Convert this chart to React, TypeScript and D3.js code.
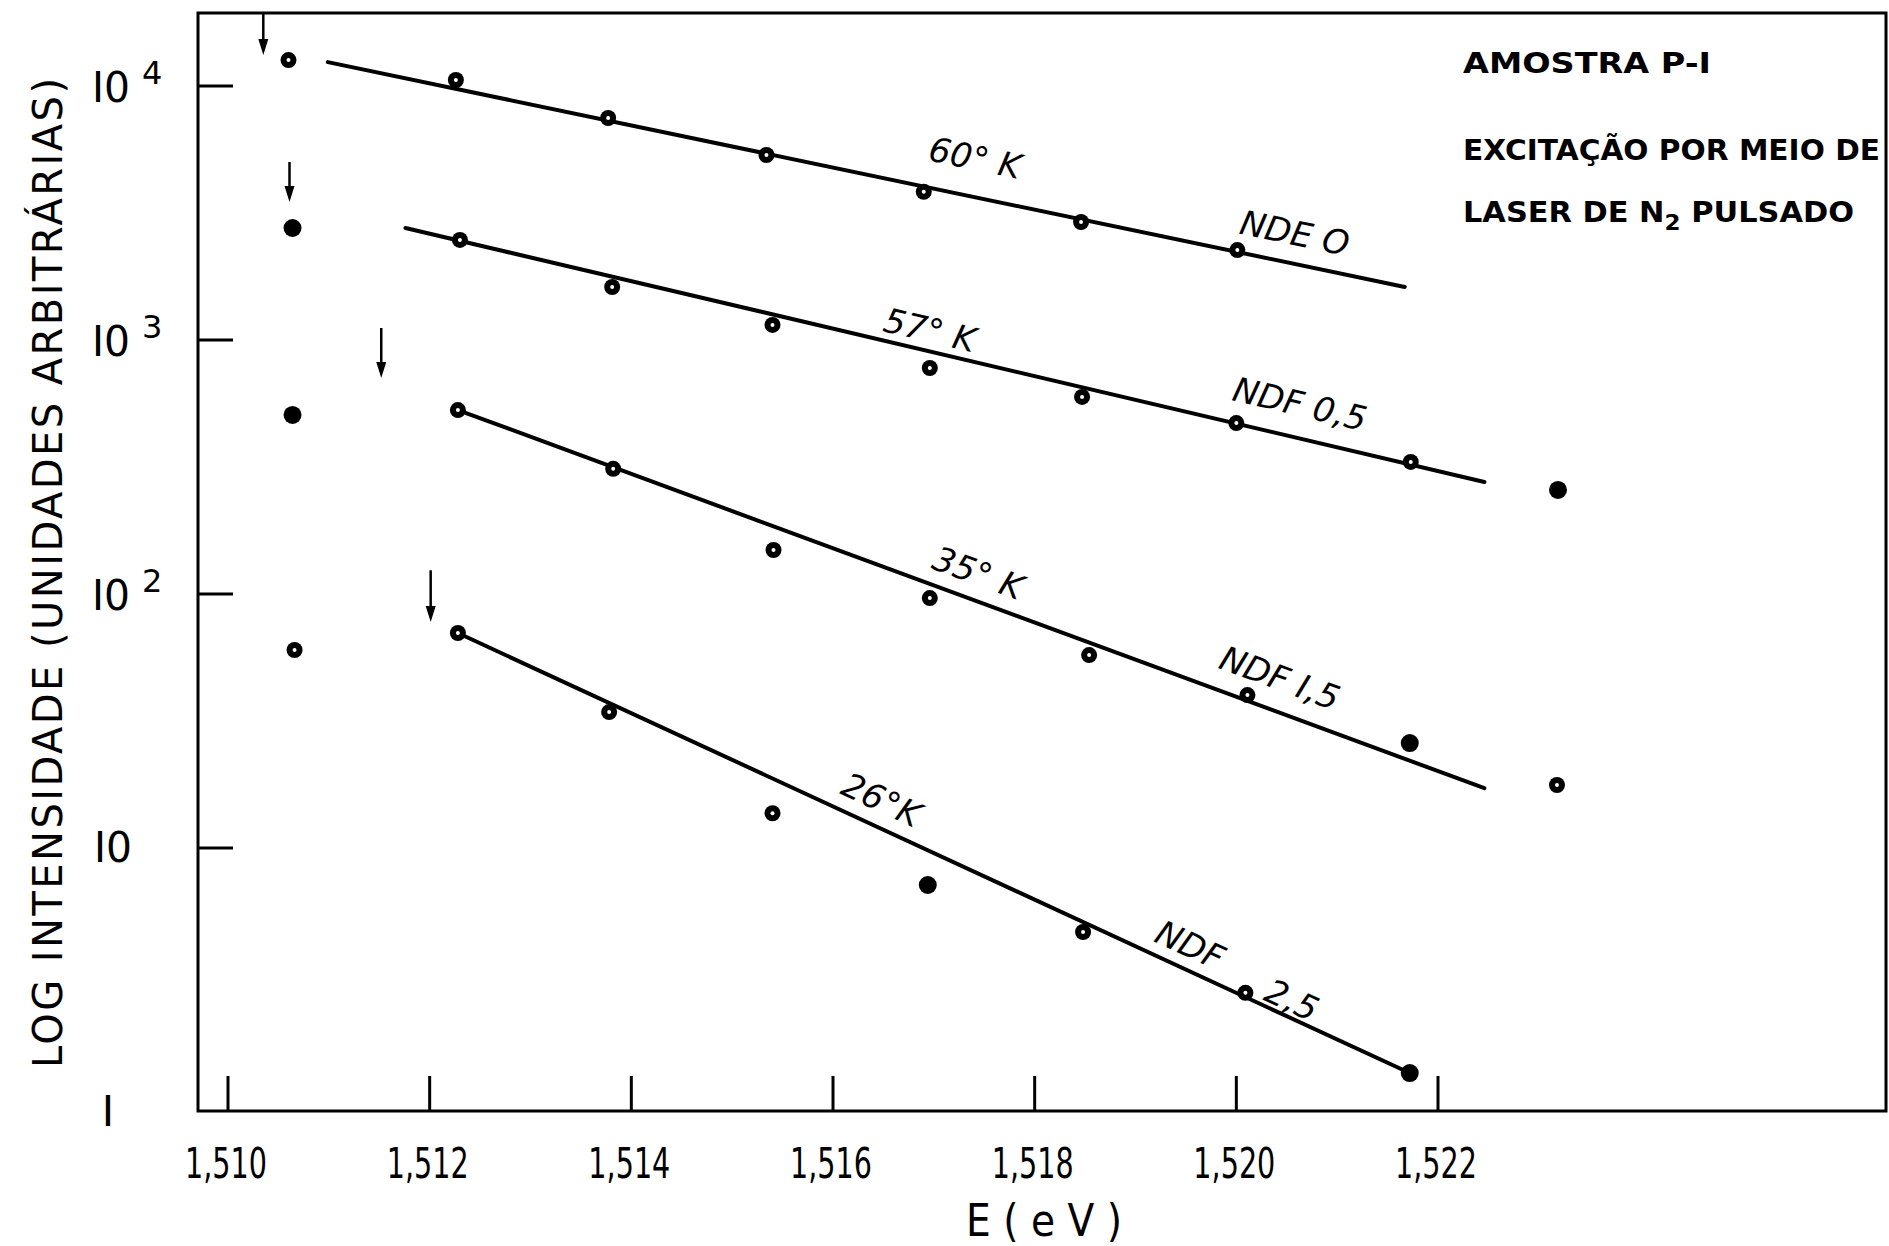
import * as d3 from 'd3';

// axis ticks
const energyTicks = [1.51, 1.512, 1.514, 1.516, 1.518, 1.52, 1.522];
const energyTickLabels = ['1,510', '1,512', '1,514', '1,516', '1,518', '1,520', '1,522'];
const intensityTicks = [1, 10, 100, 1000, 10000];

// 60 K, NDE 0
const energy60K = [1.5106, 1.51226, 1.51377, 1.51534, 1.5169, 1.51846, 1.52001];
const intensity60K = [12650, 10560, 7480, 5350, 3830, 2915, 2260];
const solid60K = [false, false, false, false, false, false, false];
const fit60K = [[1.51099, 12420], [1.52167, 1618]];

// 57 K, NDF 0,5
const energy57K = [1.51064, 1.5123, 1.51381, 1.5154, 1.51696, 1.51847, 1.52, 1.52173, 1.52319];
const intensity57K = [2760, 2477, 1617, 1146, 776, 597, 471, 331, 257];
const solid57K = [true, false, false, false, false, false, false, false, true];
const fit57K = [[1.51176, 2761], [1.52246, 276]];

// 35 K, NDF 1,5
const energy35K = [1.51064, 1.51228, 1.51382, 1.51541, 1.51696, 1.51854, 1.52011, 1.52172, 1.52318];
const intensity35K = [507, 530, 311, 149, 96.4, 57.5, 40, 25.9, 17.7];
const solid35K = [true, false, false, false, false, false, false, true, false];
const fit35K = [[1.51228, 530], [1.52246, 17.2]];

// 26 K, NDF 2,5
const energy26K = [1.51066, 1.51228, 1.51378, 1.5154, 1.51694, 1.51848, 1.52009, 1.52172];
const intensity26K = [60.2, 70.2, 34.3, 13.7, 7.15, 4.67, 2.69, 1.3];
const solid26K = [false, false, false, false, true, false, false, true];
const fit26K = [[1.51228, 70.2], [1.52172, 1.3]];

// vertical arrows
const arrowEnergy = [1.51035, 1.51061, 1.51152, 1.51201];
const arrowTop = [19370, 5020, 1115, 124];
const arrowBottom = [13250, 3493, 709, 77.6];

const series = [
  { energy: energy60K, intensity: intensity60K, solid: solid60K, fit: fit60K },
  { energy: energy57K, intensity: intensity57K, solid: solid57K, fit: fit57K },
  { energy: energy35K, intensity: intensity35K, solid: solid35K, fit: fit35K },
  { energy: energy26K, intensity: intensity26K, solid: solid26K, fit: fit26K },
];

// labels written along the lines
const lineLabels = [
  { text: '60° K', e: 1.51741, i: 5210, fit: 0 },
  { text: 'NDE O', e: 1.52058, i: 2637, fit: 0 },
  { text: '57° K', e: 1.51696, i: 1095, fit: 1 },
  { text: 'NDF 0,5', e: 1.52063, i: 560, fit: 1 },
  { text: '35° K', e: 1.51744, i: 121, fit: 2 },
  { text: 'NDF  I,5', e: 1.52043, i: 46.7, fit: 2 },
  { text: '26°K', e: 1.51648, i: 15.5, fit: 3 },
  { text: 'NDF', e: 1.51954, i: 4.15, fit: 3 },
  { text: '2,5', e: 1.52055, i: 2.52, fit: 3 },
];

const W = 1889;
const H = 1246;
const frame = { left: 198, top: 13, right: 1886, bottom: 1111 };
const font = 'DejaVu Sans, Liberation Sans, sans-serif';

const x = d3.scaleLinear().domain([1.51, 1.522]).range([228, 1438]);
const y = d3.scaleLog().domain([1, 10000]).range([1102, 86]);

const App = () => {
  const line = d3.line<number[]>().x(d => x(d[0])).y(d => y(d[1]));

  return (
    <svg width={W} height={H} style={{ position: 'fixed', left: 0, top: 0, background: 'white' }}>
      <rect x={0} y={0} width={W} height={H} fill="white" />

      {/* frame */}
      <rect x={frame.left} y={frame.top} width={frame.right - frame.left} height={frame.bottom - frame.top}
        fill="none" stroke="black" strokeWidth={3} />

      {/* y ticks (the lowest one sits on the bottom axis) */}
      {intensityTicks.filter(v => v > 1).map(v => (
        <line key={'yt' + v} x1={frame.left} x2={frame.left + 35} y1={y(v)} y2={y(v)} stroke="black" strokeWidth={3} />
      ))}
      {intensityTicks.map(v => {
        const p = Math.round(Math.log10(v));
        const yy = y(v);
        if (p === 0) {
          return <text key={'yl' + v} x={108} y={yy + 24} fontSize={42} fontFamily={font} textAnchor="middle">I</text>;
        }
        if (p === 1) {
          return <text key={'yl' + v} x={94} y={yy + 14} fontSize={42} fontFamily={font}
            textLength={38} lengthAdjust="spacingAndGlyphs">I0</text>;
        }
        return (
          <g key={'yl' + v}>
            <text x={92} y={yy + 16} fontSize={42} fontFamily={font} textLength={38} lengthAdjust="spacingAndGlyphs">I0</text>
            <text x={142} y={yy - 2} fontSize={32} fontFamily={font}>{p}</text>
          </g>
        );
      })}

      {/* x ticks */}
      {energyTicks.map((v, k) => (
        <g key={'xt' + v}>
          <line x1={x(v)} x2={x(v)} y1={frame.bottom} y2={frame.bottom - 35} stroke="black" strokeWidth={3} />
          <text x={x(v) - 2} y={1178} fontSize={42} fontFamily={font} textAnchor="middle"
            textLength={82} lengthAdjust="spacingAndGlyphs">{energyTickLabels[k]}</text>
        </g>
      ))}

      {/* axis titles */}
      <text x={1044} y={1236} fontSize={44} fontFamily={font} textAnchor="middle"
        textLength={156} lengthAdjust="spacingAndGlyphs">E ( e V )</text>
      <text transform="translate(62, 573) rotate(-90)" fontSize={40} fontFamily={font} textAnchor="middle"
        textLength={990} lengthAdjust="spacing">LOG  INTENSIDADE (UNIDADES  ARBITRÁRIAS)</text>

      {/* fitted lines */}
      {series.map((s, k) => (
        <path key={'fit' + k} d={line(s.fit) || ''} fill="none" stroke="black" strokeWidth={4} strokeLinecap="round" />
      ))}

      {/* points */}
      {series.map((s, k) => s.energy.map((e, j) => (
        s.solid[j] ? (
          <circle key={`p${k}-${j}`} cx={x(e)} cy={y(s.intensity[j])} r={9} fill="black" />
        ) : (
          <g key={`p${k}-${j}`}>
            <circle cx={x(e)} cy={y(s.intensity[j])} r={8} fill="black" />
            <circle cx={x(e)} cy={y(s.intensity[j])} r={2} fill="white" />
          </g>
        )
      )))}

      {/* arrows */}
      {arrowEnergy.map((e, k) => {
        const ax = x(e);
        const y0 = y(arrowTop[k]);
        const y1 = y(arrowBottom[k]);
        return (
          <g key={'ar' + k}>
            <line x1={ax} x2={ax} y1={y0} y2={y1 - 10} stroke="black" strokeWidth={2.5} />
            <path d={`M${ax - 5},${y1 - 16} L${ax + 5},${y1 - 16} L${ax},${y1} Z`} fill="black" />
          </g>
        );
      })}

      {/* line labels */}
      {lineLabels.map((l, k) => {
        const f = series[l.fit].fit;
        const ang = Math.atan2(y(f[1][1]) - y(f[0][1]), x(f[1][0]) - x(f[0][0])) * 180 / Math.PI;
        return (
          <text key={'ll' + k} transform={`translate(${x(l.e)}, ${y(l.i)}) rotate(${ang})`}
            fontSize={34} fontFamily={font} fontStyle="italic" textAnchor="middle" dy="0.35em">{l.text}</text>
        );
      })}

      {/* notes */}
      <text x={1463} y={73} fontSize={29} fontFamily={font} fontWeight="bold" textLength={248} lengthAdjust="spacingAndGlyphs">AMOSTRA  P-I</text>
      <text x={1463} y={160} fontSize={29} fontFamily={font} fontWeight="bold" textLength={417} lengthAdjust="spacingAndGlyphs">EXCITAÇÃO  POR MEIO DE</text>
      <text x={1463} y={222} fontSize={29} fontFamily={font} fontWeight="bold" textLength={391} lengthAdjust="spacingAndGlyphs">
        LASER DE N<tspan dy={8} fontSize={22}>2</tspan><tspan dy={-8}> PULSADO</tspan>
      </text>
    </svg>
  );
};

export default App;
